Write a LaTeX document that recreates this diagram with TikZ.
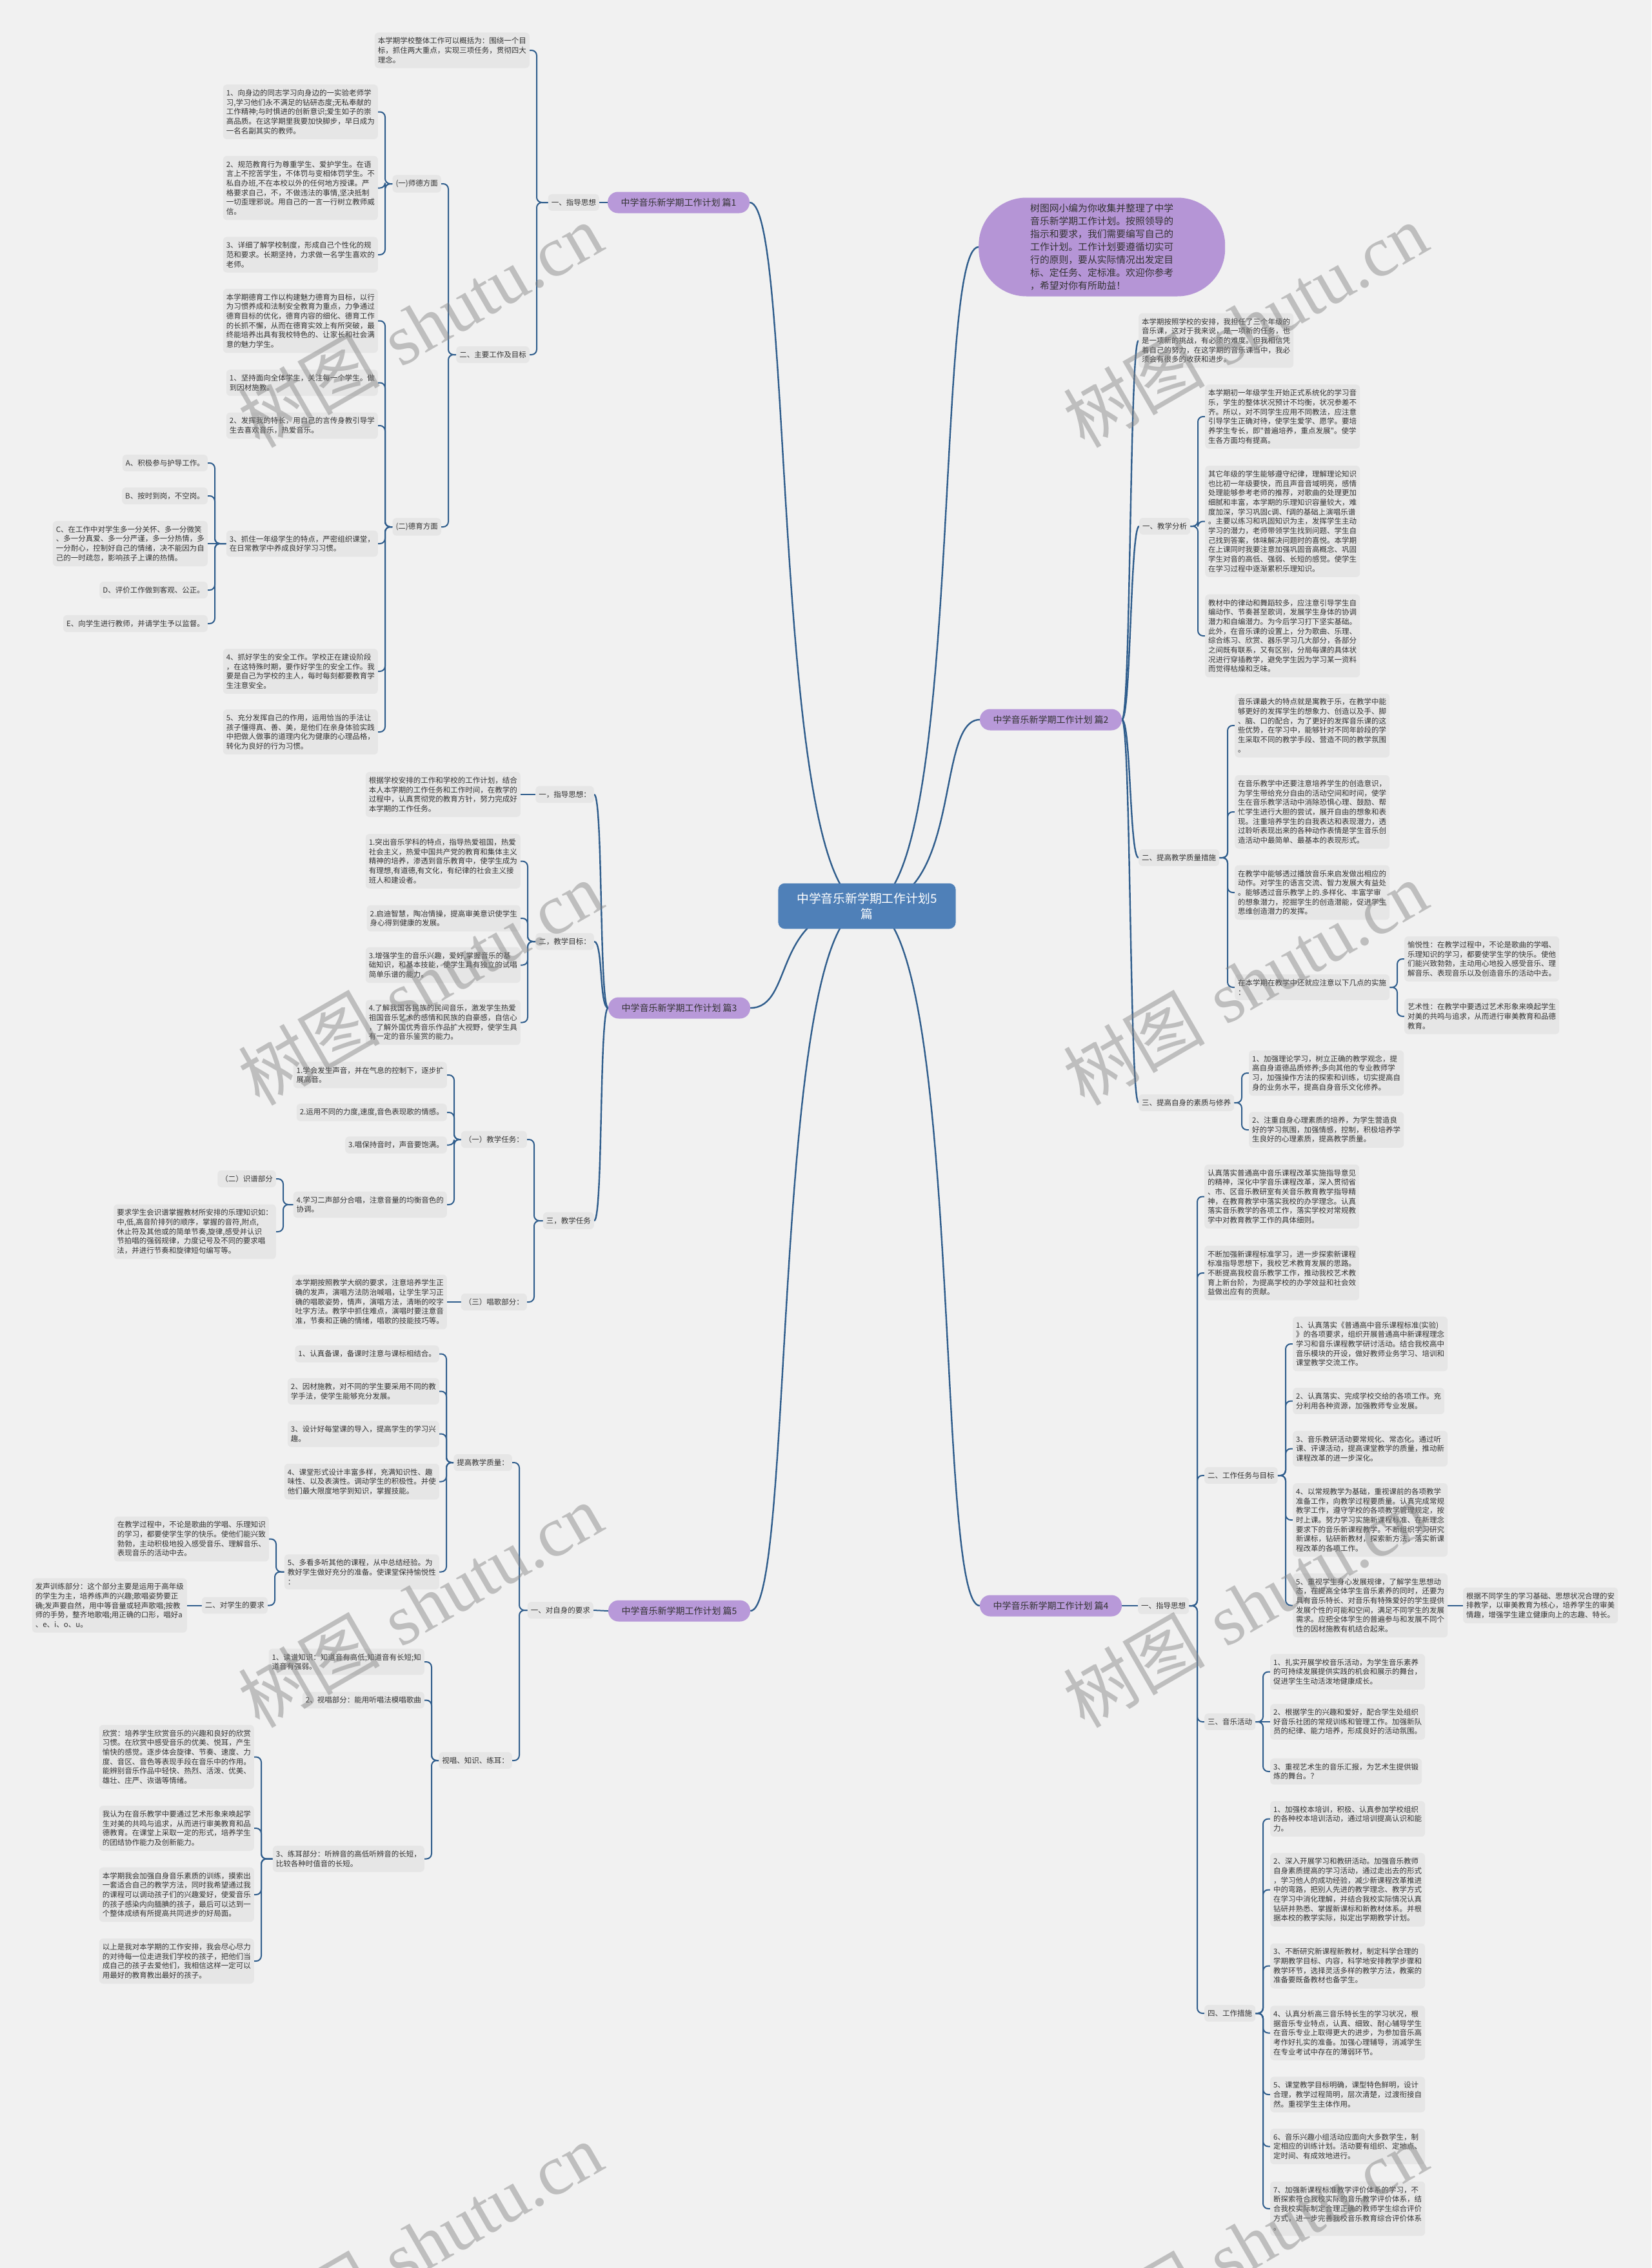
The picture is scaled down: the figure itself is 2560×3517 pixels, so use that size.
\documentclass[tikz,border=0pt]{standalone}
\usepackage{fontspec}
\newfontfamily\cjk{Noto Sans CJK SC}
\newfontfamily\wmlat{Liberation Serif}
\usetikzlibrary{calc}
\definecolor{bgcol}{HTML}{F1F1F1}
\definecolor{boxcol}{HTML}{E6E6E6}
\definecolor{linecol}{HTML}{2F5D8C}
\definecolor{centcol}{HTML}{4F80B8}
\definecolor{purp}{HTML}{B899D9}
\definecolor{purpb}{HTML}{B595D6}
\definecolor{txtcol}{HTML}{333333}
\pgfdeclarelayer{bglayer}
\pgfdeclarelayer{lines}
\pgfdeclarelayer{wm}
\pgfsetlayers{bglayer,lines,main,wm}
\tikzset{
 box/.style={fill=boxcol, rounded corners=6pt, inner xsep=5pt, inner ysep=7.6pt, align=left, font=\cjk\fontsize{11.5}{14.67}\selectfont, text=txtcol},
 bL/.style={box, anchor=east},
 bR/.style={box, anchor=west},
 branch/.style={fill=purp, rounded corners=16pt, inner xsep=20pt, inner ysep=9.5pt, font=\cjk\fontsize{14}{17}\selectfont, text=txtcol, minimum width=220pt, minimum height=33pt},
 lnk/.style={draw=linecol, line width=2pt, rounded corners=8pt},
 curv/.style={draw=linecol, line width=2.4pt},
 wmark/.style={rotate=30, text=gray, opacity=0.45, font=\fontsize{110}{120}\selectfont},
}
\newcommand\lkL[2]{\draw[lnk] (#1.west) -| ([xshift=11pt]#2.east) -- (#2.east);}
\newcommand\lkR[2]{\draw[lnk] (#1.east) -| ([xshift=-11pt]#2.west) -- (#2.west);}
\newcommand\stL[2]{\draw[lnk] (#1.west) -- (#2.east);}
\newcommand\stR[2]{\draw[lnk] (#1.east) -- (#2.west);}
\newcommand\cvL[2]{\draw[curv] (#1.west) .. controls +(-14,0) and +(14,0) .. (#2.east);}
\newcommand\cvR[2]{\draw[curv] (#1.east) .. controls +(14,0) and +(-14,0) .. (#2.west);}
\begin{document}
\begin{tikzpicture}[x=1pt,y=-1pt]
\begin{pgfonlayer}{bglayer}
\fill[bgcol] (0,0) rectangle (2560,3517);
\end{pgfonlayer}
\useasboundingbox (0,0) rectangle (2560,3517);

% centre and branches
\node[fill=centcol, rounded corners=10pt, text=white, font=\cjk\fontsize{18.8}{24}\selectfont, align=center, inner xsep=29pt, inner ysep=14.5pt] (c) at (1344,1405) {中学音乐新学期工作计划5\\篇};
\node[branch] (b1) at (1052,314) {中学音乐新学期工作计划 篇1};
\node[branch] (b3) at (1053,1563) {中学音乐新学期工作计划 篇3};
\node[branch] (b5) at (1053,2498) {中学音乐新学期工作计划 篇5};
\node[branch] (b2) at (1629,1116) {中学音乐新学期工作计划 篇2};
\node[branch] (b4) at (1629,2490) {中学音乐新学期工作计划 篇4};
\node[fill=purpb, rounded corners=74pt, minimum height=153pt, inner xsep=80pt, inner ysep=9pt, align=left, font=\cjk\fontsize{14.8}{20}\selectfont, text=txtcol, anchor=west] (intro) at (1517,383) {树图网小编为你收集并整理了中学\\音乐新学期工作计划。按照领导的\\指示和要求，我们需要编写自己的\\工作计划。工作计划要遵循切实可\\行的原则，要从实际情况出发定目\\标、定任务、定标准。欢迎你参考\\，希望对你有所助益！};

% ===== branch 1 =====
\node[bL] (L1) at (929,314) {一、指导思想};
\node[bL] (L1a) at (821,78) {本学期学校整体工作可以概括为：围绕一个目\\标，抓住两大重点，实现三项任务，贯彻四大\\理念。};
\node[bL] (L12) at (821,550) {二、主要工作及目标};
\node[bL] (sd) at (684,285) {(一)师德方面};
\node[bL] (dy) at (684,817) {(二)德育方面};
\node[bL] (sd1) at (586,173.5) {1、向身边的同志学习向身边的一实验老师学\\习,学习他们永不满足的钻研态度;无私奉献的\\工作精神;与时惧进的创新意识;爱生如子的崇\\高品质。在这学期里我要加快脚步，早日成为\\一名名副其实的教师。};
\node[bL] (sd2) at (586,291.5) {2、规范教育行为尊重学生、爱护学生。在语\\言上不挖苦学生，不体罚与变相体罚学生。不\\私自办班,不在本校以外的任何地方授课。严\\格要求自己，不，不做违法的事情,坚决抵制\\一切歪理邪说。用自己的一言一行树立教师威\\信。};
\node[bL] (sd3) at (586,395) {3、详细了解学校制度，形成自己个性化的规\\范和要求。长期坚持，力求做一名学生喜欢的\\老师。};
\node[bL] (dy0) at (586,497.5) {本学期德育工作以构建魅力德育为目标，以行\\为习惯养成和法制安全教育为重点，力争通过\\德育目标的优化，德育内容的细化、德育工作\\的长抓不懈，从而在德育实效上有所突破，最\\终能培养出具有我校特色的、让家长和社会满\\意的魅力学生。};
\node[bL] (dy1) at (586,593.5) {1、坚持面向全体学生，关注每一个学生。做\\到因材施教。};
\node[bL] (dy2) at (586,660) {2、发挥我的特长，用自己的言传身教引导学\\生去喜欢音乐，热爱音乐。};
\node[bL] (dy3) at (586,843) {3、抓住一年级学生的特点，严密组织课堂，\\在日常教学中养成良好学习习惯。};
\node[bL] (dy4) at (586,1041) {4、抓好学生的安全工作。学校正在建设阶段\\，在这特殊时期，要作好学生的安全工作。我\\要是自己为学校的主人，每时每刻都要教育学\\生注意安全。};
\node[bL] (dy5) at (586,1135) {5、充分发挥自己的作用，运用恰当的手法让\\孩子懂得真、善、美，是他们在亲身体验实践\\中把做人做事的道理内化为健康的心理品格，\\转化为良好的行为习惯。};
\node[bL] (eA) at (322,718) {A、积极参与护导工作。};
\node[bL] (eB) at (322,769) {B、按时到岗，不空岗。};
\node[bL] (eC) at (322,843) {C、在工作中对学生多一分关怀、多一分微笑\\、多一分真爱、多一分严谨，多一分热情，多\\一分耐心，控制好自己的情绪，决不能因为自\\己的一时疏忽，影响孩子上课的热情。};
\node[bL] (eD) at (322,915) {D、评价工作做到客观、公正。};
\node[bL] (eE) at (322,967) {E、向学生进行教师，并请学生予以监督。};

% ===== branch 3 =====
\node[bL] (t1) at (921,1232) {一，指导思想：};
\node[bL] (t2) at (921,1460) {二，教学目标：};
\node[bL] (t3) at (921,1893) {三，教学任务};
\node[bL] (t1a) at (807,1232) {根据学校安排的工作和学校的工作计划，结合\\本人本学期的工作任务和工作时间，在教学的\\过程中，认真贯彻党的教育方针，努力完成好\\本学期的工作任务。};
\node[bL] (t2a) at (807,1335.5) {1.突出音乐学科的特点，指导热爱祖国，热爱\\社会主义，热爱中国共产党的教育和集体主义\\精神的培养，渗透到音乐教育中，使学生成为\\有理想,有道德,有文化，有纪律的社会主义接\\班人和建设者。};
\node[bL] (t2b) at (807,1424) {2.启迪智慧，陶冶情操，提高审美意识使学生\\身心得到健康的发展。};
\node[bL] (t2c) at (807,1496.5) {3.增强学生的音乐兴趣，爱好,掌握音乐的基\\础知识，和基本技能，使学生具有独立的试唱\\简单乐谱的能力。};
\node[bL] (t2d) at (807,1585.5) {4.了解我国各民族的民间音乐，激发学生热爱\\祖国音乐艺术的感情和民族的自豪感，自信心\\，了解外国优秀音乐作品扩大视野，使学生具\\有一定的音乐鉴赏的能力。};
\node[bL] (t31) at (817,1767) {（一）教学任务：};
\node[bL] (t33) at (817,2019) {（三）唱歌部分：};
\node[bL] (r1) at (693,1667) {1.学会发生声音，并在气息的控制下，逐步扩\\展高音。};
\node[bL] (r2) at (693,1725) {2.运用不同的力度,速度,音色表现歌的情感。};
\node[bL] (r3) at (693,1775.5) {3.唱保持音时，声音要饱满。};
\node[bL] (r4) at (693,1868) {4.学习二声部分合唱，注意音量的均衡音色的\\协调。};
\node[bL] (sp) at (428,1828) {（二）识谱部分};
\node[bL] (spt) at (428,1910) {要求学生会识谱掌握教材所安排的乐理知识如：\\中,低,高音阶排列的顺序，掌握的音符,附点,\\休止符及其他或的简单节奏,旋律,感受并认识\\节拍唱的强弱规律，力度记号及不同的要求唱\\法，并进行节奏和旋律短句编写等。};
\node[bL] (t33a) at (693,2019) {本学期按照教学大纲的要求，注意培养学生正\\确的发声，演唱方法防治喊唱，让学生学习正\\确的唱歌姿势，情声，演唱方法，清晰的咬字\\吐字方法。教学中抓住难点，演唱时要注意音\\准，节奏和正确的情绪，唱歌的技能技巧等。};

% ===== branch 5 =====
\node[bL] (f1) at (920,2497) {一、对自身的要求};
\node[bL] (q) at (794,2268) {提高教学质量：};
\node[bL] (v) at (794,2730) {视唱、知识、练耳：};
\node[bL] (q1) at (681,2099.5) {1、认真备课，备课时注意与课标相结合。};
\node[bL] (q2) at (681,2157.5) {2、因材施教，对不同的学生要采用不同的教\\学手法，使学生能够充分发展。};
\node[bL] (q3) at (681,2223.5) {3、设计好每堂课的导入，提高学生的学习兴\\趣。};
\node[bL] (q4) at (681,2297.5) {4、课堂形式设计丰富多样，充满知识性、趣\\味性、以及表演性。调动学生的积极性。并使\\他们最大限度地学到知识，掌握技能。};
\node[bL] (q5) at (681,2437.5) {5、多看多听其他的课程，从中总结经验。为\\教好学生做好充分的准备。使课堂保持愉悦性\\：};
\node[bL] (q5a) at (417,2386.5) {在教学过程中，不论是歌曲的学唱、乐理知识\\的学习，都要使学生学的快乐。使他们能兴致\\勃勃，主动积极地投入感受音乐、理解音乐、\\表现音乐的活动中去。};
\node[bL] (q5b) at (415,2489.5) {二、对学生的要求};
\node[bL] (fs) at (290,2489.5) {发声训练部分：这个部分主要是运用于高年级\\的学生为主，培养练声的兴趣;歌唱姿势要正\\确;发声要自然，用中等音量或轻声歌唱;按教\\师的手势，整齐地歌唱;用正确的口形，唱好a\\、e、i、o、u。};
\node[bL] (v1) at (658,2577) {1、读谱知识：知道音有高低;知道音有长短;知\\道音有强弱。};
\node[bL] (v2) at (658,2636.5) {2、视唱部分：能用听唱法模唱歌曲};
\node[bL] (v3) at (658,2882.5) {3、练耳部分：听辨音的高低听辨音的长短，\\比较各种时值音的长短。};
\node[bL] (w1) at (394,2724.5) {欣赏：培养学生欣赏音乐的兴趣和良好的欣赏\\习惯。在欣赏中感受音乐的优美、悦耳，产生\\愉快的感觉。逐步体会旋律、节奏、速度、力\\度、音区、音色等表现手段在音乐中的作用。\\能辨别音乐作品中轻快、热烈、活泼、优美、\\雄壮、庄严、诙谐等情绪。};
\node[bL] (w2) at (394,2835) {我认为在音乐教学中要通过艺术形象来唤起学\\生对美的共鸣与追求，从而进行审美教育和品\\德教育。在课堂上采取一定的形式，培养学生\\的团结协作能力及创新能力。};
\node[bL] (w3) at (394,2938) {本学期我会加强自身音乐素质的训练，摸索出\\一套适合自己的教学方法，同时我希望通过我\\的课程可以调动孩子们的兴趣爱好，使爱音乐\\的孩子感染内向腼腆的孩子，最后可以达到一\\个整体成绩有所提高共同进步的好局面。};
\node[bL] (w4) at (394,3041) {以上是我对本学期的工作安排，我会尽心尽力\\的对待每一位走进我们学校的孩子，把他们当\\成自己的孩子去爱他们，我相信这样一定可以\\用最好的教育教出最好的孩子。};

% ===== branch 2 =====
\node[bR] (p0) at (1765,528) {本学期按照学校的安排，我担任了三个年级的\\音乐课，这对于我来说，是一项新的任务，也\\是一项新的挑战，有必须的难度。但我相信凭\\着自己的努力，在这学期的音乐课当中，我必\\须会有很多的收获和进步。};
\node[bR] (p1) at (1766,816) {一、教学分析};
\node[bR] (p2) at (1765,1330) {二、提高教学质量措施};
\node[bR] (p3) at (1765,1710) {三、提高自身的素质与修养};
\node[bR] (p1a) at (1868,646) {本学期初一年级学生开始正式系统化的学习音\\乐，学生的整体状况预计不均衡，状况参差不\\齐。所以，对不同学生应用不同教法，应注意\\引导学生正确对待，使学生爱学、愿学。要培\\养学生专长，即"普遍培养，重点发展"。使学\\生各方面均有提高。};
\node[bR] (p1b) at (1868,808.5) {其它年级的学生能够遵守纪律，理解理论知识\\也比初一年级要快，而且声音音域明亮，感情\\处理能够参考老师的推荐，对歌曲的处理更加\\细腻和丰富，本学期的乐理知识容量较大，难\\度加深，学习巩固c调、f调的基础上演唱乐谱\\。主要以练习和巩固知识为主，发挥学生主动\\学习的潜力，老师带领学生找到问题、学生自\\己找到答案，体味解决问题时的喜悦。本学期\\在上课同时我要注意加强巩固音高概念、巩固\\学生对音的高低、强弱、长短的感觉。使学生\\在学习过程中逐渐累积乐理知识。};
\node[bR] (p1c) at (1868,986) {教材中的律动和舞蹈较多，应注意引导学生自\\编动作、节奏甚至歌词，发展学生身体的协调\\潜力和自编潜力。为今后学习打下坚实基础。\\此外，在音乐课的设置上，分为歌曲、乐理、\\综合练习、欣赏、器乐学习几大部分，各部分\\之间既有联系，又有区别，分局每课的具体状\\况进行穿插教学，避免学生因为学习某一资料\\而觉得枯燥和乏味。};
\node[bR] (p2a) at (1914,1125) {音乐课最大的特点就是寓教于乐，在教学中能\\够更好的发挥学生的想象力、创造以及手、脚\\、脑、口的配合，为了更好的发挥音乐课的这\\些优势，在学习中，能够针对不同年龄段的学\\生采取不同的教学手段、营造不同的教学氛围\\。};
\node[bR] (p2b) at (1914,1259) {在音乐教学中还要注意培养学生的创造意识，\\为学生带给充分自由的活动空间和时间，使学\\生在音乐教学活动中消除恐惧心理、鼓励、帮\\忙学生进行大胆的尝试，展开自由的想象和表\\现。注重培养学生的自我表达和表现潜力，透\\过聆听表现出来的各种动作表情是学生音乐创\\造活动中最简单、最基本的表现形式。};
\node[bR] (p2c) at (1914,1384) {在教学中能够透过播放音乐来启发做出相应的\\动作。对学生的语言交流、智力发展大有益处\\。能够透过音乐教学上的.多样化、丰富学审\\的想象潜力，挖掘学生的创造潜能，促进学生\\思维创造潜力的发挥。};
\node[bR] (p2d) at (1914,1531) {在本学期在教学中还就应注意以下几点的实施\\：};
\node[bR] (p2d1) at (2177,1487) {愉悦性：在教学过程中，不论是歌曲的学唱、\\乐理知识的学习，都要使学生学的快乐。使他\\们能兴致勃勃，主动用心地投入感受音乐、理\\解音乐、表现音乐以及创造音乐的活动中去。};
\node[bR] (p2d2) at (2177,1576) {艺术性：在教学中要透过艺术形象来唤起学生\\对美的共鸣与追求，从而进行审美教育和品德\\教育。};
\node[bR] (p3a) at (1936,1664) {1、加强理论学习，树立正确的教学观念，提\\高自身道德品质修养;多向其他的专业教师学\\习，加强操作方法的探索和训练，切实提高自\\身的业务水平，提高自身音乐文化修养。};
\node[bR] (p3b) at (1936,1752) {2、注重自身心理素质的培养，为学生营造良\\好的学习氛围，加强情感，控制，积极培养学\\生良好的心理素质，提高教学质量。};

% ===== branch 4 =====
\node[bR] (g) at (1764,2490) {一、指导思想};
\node[bR] (g0) at (1867,1855.5) {认真落实普通高中音乐课程改革实施指导意见\\的精神，深化中学音乐课程改革，深入贯彻省\\、市、区音乐教研室有关音乐教育教学指导精\\神，在教育教学中落实我校的办学理念。认真\\落实音乐教学的各项工作，落实学校对常规教\\学中对教育教学工作的具体细则。};
\node[bR] (g1) at (1867,1974) {不断加强新课程标准学习，进一步探索新课程\\标准指导思想下，我校艺术教育发展的思路。\\不断提高我校音乐教学工作，推动我校艺术教\\育上新台阶，为提高学校的办学效益和社会效\\益做出应有的贡献。};
\node[bR] (g2) at (1867,2288) {二、工作任务与目标};
\node[bR] (g3) at (1867,2670) {三、音乐活动};
\node[bR] (g4) at (1867,3122) {四、工作措施};
\node[bR] (g21) at (2004,2084) {1、认真落实《普通高中音乐课程标准(实验)\\》的各项要求，组织开展普通高中新课程理念\\学习和音乐课程教学研讨活动。结合我校高中\\音乐模块的开设，做好教师业务学习、培训和\\课堂教学交流工作。};
\node[bR] (g22) at (2004,2172.5) {2、认真落实、完成学校交给的各项工作。充\\分利用各种资源，加强教师专业发展。};
\node[bR] (g23) at (2004,2246.5) {3、音乐教研活动要常规化、常态化。通过听\\课、评课活动，提高课堂教学的质量，推动新\\课程改革的进一步深化。};
\node[bR] (g24) at (2004,2357) {4、以常规教学为基础，重视课前的各项教学\\准备工作，向教学过程要质量。认真完成常规\\教学工作，遵守学校的各项教学管理规定，按\\时上课。努力学习实施新课程标准、在新理念\\要求下的音乐新课程教学。不断组织学习研究\\新课标，钻研新教材，探索新方法，落实新课\\程改革的各项工作。};
\node[bR] (g25) at (2004,2489.5) {5、重视学生身心发展规律，了解学生思想动\\态，在提高全体学生音乐素养的同时，还要为\\具有音乐特长、对音乐有特殊爱好的学生提供\\发展个性的可能和空间，满足不同学生的发展\\需求。应把全体学生的普遍参与和发展不同个\\性的因材施教有机结合起来。};
\node[bR] (g25a) at (2268,2489.5) {根据不同学生的学习基础、思想状况合理的安\\排教学，以审美教育为核心，培养学生的审美\\情趣，增强学生建立健康向上的志趣、特长。};
\node[bR] (g31) at (1969,2592.5) {1、扎实开展学校音乐活动，为学生音乐素养\\的可持续发展提供实践的机会和展示的舞台，\\促进学生生动活泼地健康成长。};
\node[bR] (g32) at (1969,2670) {2、根据学生的兴趣和爱好，配合学生处组织\\好音乐社团的常规训练和管理工作。加强新队\\员的纪律、能力培养，形成良好的活动氛围。};
\node[bR] (g33) at (1969,2747) {3、重视艺术生的音乐汇报，为艺术生提供锻\\炼的舞台。？};
\node[bR] (g41) at (1969,2820.5) {1、加强校本培训，积极、认真参加学校组织\\的各种校本培训活动，通过培训提高认识和能\\力。};
\node[bR] (g42) at (1969,2930.5) {2、深入开展学习和教研活动。加强音乐教师\\自身素质提高的学习活动，通过走出去的形式\\，学习他人的成功经验，减少新课程改革推进\\中的弯路，把别人先进的教学理念、教学方式\\在学习中消化理解，并结合我校实际情况认真\\钻研并熟悉、掌握新课标和新教材体系。并根\\据本校的教学实际，拟定出学期教学计划。};
\node[bR] (g43) at (1969,3048.5) {3、不断研究新课程新教材，制定科学合理的\\学期教学目标、内容，科学地安排教学步骤和\\教学环节，选择灵活多样的教学方法，教案的\\准备要既备教材也备学生。};
\node[bR] (g44) at (1969,3152.5) {4、认真分析高三音乐特长生的学习状况，根\\据音乐专业特点，认真、细致、耐心辅导学生\\在音乐专业上取得更大的进步，为参加音乐高\\考作好扎实的准备。加强心理辅导，消减学生\\在专业考试中存在的薄弱环节。};
\node[bR] (g45) at (1969,3248) {5、课堂教学目标明确，课型特色鲜明，设计\\合理，教学过程简明，层次清楚，过渡衔接自\\然。重视学生主体作用。};
\node[bR] (g46) at (1969,3328.5) {6、音乐兴趣小组活动应面向大多数学生，制\\定相应的训练计划。活动要有组织、定地点、\\定时间、有成效地进行。};
\node[bR] (g47) at (1969,3425) {7、加强新课程标准教学评价体系的学习，不\\断探索符合我校实际的音乐教学评价体系，结\\合我校实际制定合理正确的教师学生综合评价\\方式，进一步完善我校音乐教育综合评价体系\\。};

% ===== connectors =====
\begin{pgfonlayer}{lines}
\draw[curv] (c.center) .. controls +(-150,0) and +(70,0) .. (b1.east);
\draw[curv] (c.center) .. controls +(-150,0) and +(70,0) .. (b3.east);
\draw[curv] (c.center) .. controls +(-150,0) and +(70,0) .. (b5.east);
\draw[curv] (c.center) .. controls +(150,0) and +(-70,0) .. (b2.west);
\draw[curv] (c.center) .. controls +(150,0) and +(-70,0) .. (b4.west);
\draw[curv] (c.center) .. controls +(150,0) and +(-70,0) .. (intro.west);
% branch 1
\stL{b1}{L1}
\lkL{L1}{L1a} \lkL{L1}{L12}
\lkL{L12}{sd} \lkL{L12}{dy}
\lkL{sd}{sd1} \lkL{sd}{sd2} \lkL{sd}{sd3}
\lkL{dy}{dy0} \lkL{dy}{dy1} \lkL{dy}{dy2} \lkL{dy}{dy3} \lkL{dy}{dy4} \lkL{dy}{dy5}
\lkL{dy3}{eA} \lkL{dy3}{eB} \stL{dy3}{eC} \lkL{dy3}{eD} \lkL{dy3}{eE}
% branch 3
\cvL{b3}{t1} \cvL{b3}{t2} \cvL{b3}{t3}
\stL{t1}{t1a}
\lkL{t2}{t2a} \lkL{t2}{t2b} \lkL{t2}{t2c} \lkL{t2}{t2d}
\lkL{t3}{t31} \lkL{t3}{t33}
\lkL{t31}{r1} \lkL{t31}{r2} \lkL{t31}{r3} \lkL{t31}{r4}
\lkL{r4}{sp} \lkL{r4}{spt}
\stL{t33}{t33a}
% branch 5
\stL{b5}{f1}
\lkL{f1}{q} \lkL{f1}{v}
\lkL{q}{q1} \lkL{q}{q2} \lkL{q}{q3} \lkL{q}{q4} \lkL{q}{q5}
\lkL{q5}{q5a} \lkL{q5}{q5b}
\stL{q5b}{fs}
\lkL{v}{v1} \lkL{v}{v2} \lkL{v}{v3}
\lkL{v3}{w1} \lkL{v3}{w2} \lkL{v3}{w3} \lkL{v3}{w4}
% branch 2
\cvR{b2}{p0} \cvR{b2}{p1} \cvR{b2}{p2} \cvR{b2}{p3}
\lkR{p1}{p1a} \lkR{p1}{p1b} \lkR{p1}{p1c}
\lkR{p2}{p2a} \lkR{p2}{p2b} \lkR{p2}{p2c} \lkR{p2}{p2d}
\lkR{p2d}{p2d1} \lkR{p2d}{p2d2}
\lkR{p3}{p3a} \lkR{p3}{p3b}
% branch 4
\stR{b4}{g}
\lkR{g}{g0} \lkR{g}{g1} \lkR{g}{g2} \lkR{g}{g3} \lkR{g}{g4}
\lkR{g2}{g21} \lkR{g2}{g22} \lkR{g2}{g23} \lkR{g2}{g24} \lkR{g2}{g25}
\stR{g25}{g25a}
\lkR{g3}{g31} \stR{g3}{g32} \lkR{g3}{g33}
\lkR{g4}{g41} \lkR{g4}{g42} \lkR{g4}{g43} \lkR{g4}{g44} \lkR{g4}{g45} \lkR{g4}{g46} \lkR{g4}{g47}
\end{pgfonlayer}

% ===== watermarks =====
\begin{pgfonlayer}{wm}
\node[wmark] (wm1) at (651,505) {{\cjk 树图} {\wmlat shutu.cn}};
\node[wmark] (wm2) at (1930,505) {{\cjk 树图} {\wmlat shutu.cn}};
\node[wmark] (wm3) at (651,1525) {{\cjk 树图} {\wmlat shutu.cn}};
\node[wmark] (wm4) at (1930,1525) {{\cjk 树图} {\wmlat shutu.cn}};
\node[wmark] (wm5) at (651,2490) {{\cjk 树图} {\wmlat shutu.cn}};
\node[wmark] (wm6) at (1930,2490) {{\cjk 树图} {\wmlat shutu.cn}};
\node[wmark] (wm7) at (651,3480) {{\cjk 树图} {\wmlat shutu.cn}};
\node[wmark] (wm8) at (1930,3480) {{\cjk 树图} {\wmlat shutu.cn}};
\end{pgfonlayer}
\end{tikzpicture}
\end{document}
